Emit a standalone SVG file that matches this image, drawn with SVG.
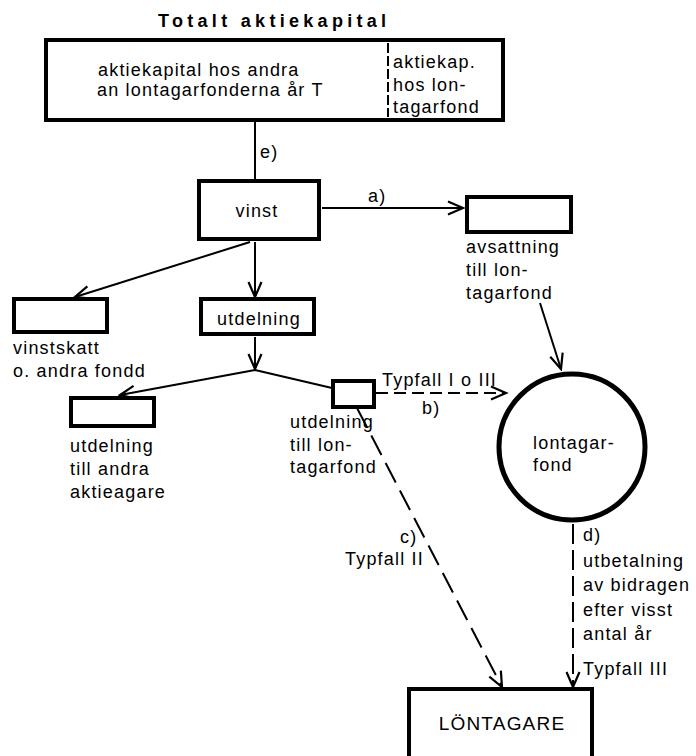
<svg xmlns="http://www.w3.org/2000/svg" width="696" height="756" viewBox="0 0 696 756">
<style>
text{font-family:"Liberation Sans",Arial,sans-serif;font-size:18px;letter-spacing:1.2px;fill:#000}
.box{fill:#fff;stroke:#000;stroke-width:4}
.ln{fill:none;stroke:#000;stroke-width:2}
.ds{fill:none;stroke:#000;stroke-width:2;stroke-dasharray:18 8}
.mid{text-anchor:middle}
</style>
<defs>
<marker id="ah" markerUnits="userSpaceOnUse" markerWidth="20" markerHeight="16" viewBox="-17 -8 19 16" refX="0" refY="0" orient="auto">
<path d="M-15,-6.5 L0,0 L-15,6.5" fill="none" stroke="#000" stroke-width="2.2"/>
</marker>
</defs>
<rect width="696" height="756" fill="#fff"/>
<g id="connectors">
<line class="ln" x1="255" y1="122" x2="255" y2="180"/>
<line class="ln" x1="322" y1="208" x2="463" y2="208" marker-end="url(#ah)"/>
<line class="ln" x1="250" y1="242" x2="75" y2="297" marker-end="url(#ah)"/>
<line class="ln" x1="255" y1="242" x2="255" y2="297" marker-end="url(#ah)"/>
<line class="ln" x1="255" y1="337" x2="255" y2="369" marker-end="url(#ah)"/>
<line class="ln" x1="255" y1="370" x2="120" y2="395" marker-end="url(#ah)"/>
<line class="ln" x1="255" y1="370" x2="332" y2="388"/>
<line class="ds" style="stroke-dasharray:12 6" x1="376" y1="393" x2="506" y2="393" marker-end="url(#ah)"/>
<line class="ln" x1="540" y1="303" x2="561" y2="369" marker-end="url(#ah)"/>
<line class="ds" style="stroke-dasharray:22 9" x1="357" y1="408" x2="502" y2="687" marker-end="url(#ah)"/>
<line class="ds" style="stroke-dasharray:20 6" x1="573" y1="524" x2="573" y2="687" marker-end="url(#ah)"/>
<text x="260" y="158">e)</text>
<text x="368" y="202">a)</text>
<text x="382" y="386">Typfall I o III</text>
<text x="422" y="414">b)</text>
<text x="400" y="543">c)</text>
<text x="345" y="565">Typfall II</text>
<text x="583" y="541">d)</text>
<text x="583" y="567">utbetalning</text>
<text x="583" y="591">av bidragen</text>
<text x="583" y="616">efter visst</text>
<text x="583" y="640">antal år</text>
<text x="583" y="675">Typfall III</text>
</g>
<g id="title">
<text x="158" y="27" style="font-weight:bold;letter-spacing:4.3px">Totalt aktiekapital</text>
</g>
<g id="aktiekapital">
<rect class="box" x="46" y="40" width="457" height="80"/>
<line class="ln" style="stroke-dasharray:10 3" x1="388" y1="43" x2="388" y2="117"/>
<text x="98" y="76">aktiekapital hos andra</text>
<text x="97" y="96">an lontagarfonderna år T</text>
<text x="393" y="68">aktiekap.</text>
<text x="393" y="91">hos lon-</text>
<text x="393" y="113">tagarfond</text>
</g>
<g id="vinst">
<rect class="box" x="199" y="181" width="120" height="58"/>
<text class="mid" x="257" y="217">vinst</text>
</g>
<g id="avsattning">
<rect class="box" x="467" y="197" width="104" height="35"/>
<text x="466" y="253">avsattning</text>
<text x="466" y="276">till lon-</text>
<text x="466" y="299">tagarfond</text>
</g>
<g id="vinstskatt">
<rect class="box" x="14" y="299" width="93" height="33"/>
<text x="13" y="354">vinstskatt</text>
<text x="13" y="377">o. andra fondd</text>
</g>
<g id="utdelning">
<rect class="box" x="201" y="299" width="113" height="35"/>
<text class="mid" x="259" y="325">utdelning</text>
</g>
<g id="utdelning-andra">
<rect class="box" x="71" y="398" width="83" height="28"/>
<text x="70" y="452">utdelning</text>
<text x="70" y="475">till andra</text>
<text x="70" y="498">aktieagare</text>
</g>
<g id="utdelning-lontagarfond">
<rect class="box" x="333" y="381" width="41" height="26"/>
<text x="290" y="428">utdelning</text>
<text x="290" y="451">till lon-</text>
<text x="290" y="473">tagarfond</text>
</g>
<g id="lontagarfond">
<circle cx="572" cy="447" r="73" fill="#fff" stroke="#000" stroke-width="5"/>
<text x="533" y="449">lontagar-</text>
<text x="533" y="471">fond</text>
</g>
<g id="lontagare">
<rect class="box" x="409" y="689" width="183" height="72"/>
<text class="mid" x="502" y="730" style="font-size:19px">LÖNTAGARE</text>
</g>
</svg>
